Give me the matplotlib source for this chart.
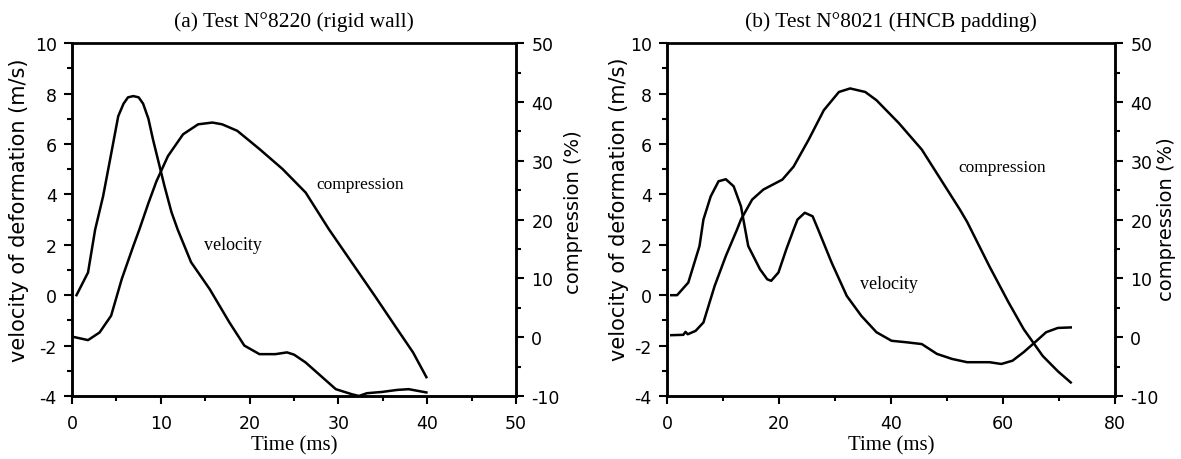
import matplotlib.pyplot as plt
from matplotlib.ticker import MultipleLocator

plt.rcParams['axes.unicode_minus'] = False

# (a) Test 8220 - rigid wall
t_vel_a = [0.5, 1.8, 2.6, 3.5, 4.4, 5.2, 5.8, 6.3, 6.9, 7.5, 8.0, 8.6, 9.1, 10.4, 11.2, 11.9, 13.4, 15.5,
           17.7, 19.4, 21.1, 22.9, 24.2, 25.0, 26.3, 28.0, 29.7, 31.5, 32.3, 33.2, 34.9, 36.6, 37.9, 39.9]
vel_a = [0.0, 0.9, 2.6, 3.93, 5.6, 7.1, 7.6, 7.85, 7.9, 7.85, 7.6, 7.0, 6.2, 4.34, 3.29, 2.6, 1.31, 0.24,
         -1.07, -2.0, -2.34, -2.34, -2.27, -2.36, -2.67, -3.2, -3.73, -3.93, -4.0, -3.89, -3.84, -3.76,
         -3.73, -3.86]
t_comp_a = [0.3, 1.8, 3.1, 4.4, 5.6, 6.9, 7.6, 8.6, 9.5, 10.8, 12.5, 14.2, 15.8, 16.9, 18.6,
            21.1, 23.7, 26.3, 28.9, 31.5, 34.1, 36.6, 38.4, 39.9]
comp_a = [0.0, -0.5, 0.8, 3.65, 9.9, 15.5, 18.4, 22.8, 26.5, 30.8, 34.5, 36.2, 36.5, 36.2, 35.1,
          32.0, 28.6, 24.6, 18.4, 12.7, 7.0, 1.4, -2.6, -6.8]

# (b) Test 8021 - HNCB padding
t_vel_b = [0.75, 1.8, 3.8, 5.8, 6.5, 7.8, 9.2, 10.5, 11.9, 13.2, 14.5, 16.6, 17.9, 18.6, 19.9,
           21.3, 22.6, 23.3, 24.6, 26.0, 27.0, 29.4, 32.1, 34.7, 37.4, 40.1, 42.8, 45.5, 48.2,
           50.9, 53.6, 57.6, 59.7, 61.7, 63.7, 65.7, 67.7, 69.8, 72.1]
vel_b = [0.0, 0.0, 0.5, 1.95, 3.0, 3.92, 4.52, 4.6, 4.32, 3.53, 1.95, 1.03, 0.63, 0.57, 0.9,
         1.82, 2.6, 3.0, 3.27, 3.13, 2.6, 1.29, -0.03, -0.82, -1.47, -1.81, -1.87, -1.94, -2.33,
         -2.53, -2.66, -2.66, -2.73, -2.6, -2.26, -1.87, -1.47, -1.3, -1.28]
t_comp_b = [0.75, 2.9, 3.3, 3.7, 5.1, 6.5, 8.5, 10.5, 12.5, 13.2, 15.2, 17.2, 20.6, 22.6, 25.3,
            28.0, 30.7, 32.7, 35.4, 37.4, 41.4, 45.5, 48.9, 52.3, 53.6, 57.6, 61.0, 63.7, 67.1,
            69.8, 72.1]
comp_b = [0.34, 0.4, 0.9, 0.5, 1.07, 2.5, 8.7, 13.8, 18.3, 20.0, 23.4, 25.1, 26.8, 29.0, 33.6,
          38.6, 41.7, 42.3, 41.7, 40.3, 36.4, 31.9, 26.8, 21.7, 19.6, 12.0, 5.9, 1.36, -3.2,
          -5.8, -7.7]

serif = 'Liberation Serif'
sans = 'DejaVu Sans'

fig = plt.figure(figsize=(11.81, 4.6), dpi=100)


def panel(rect, t_v, v, t_c, c, xmax, xmaj, title, lab_c, lab_v, ylpos, y2pos):
    ax = fig.add_axes(rect)
    ax2 = ax.twinx()
    ax.plot(t_v, v, color='black', lw=1.8)
    ax2.plot(t_c, c, color='black', lw=1.8)
    ax.set_xlim(0, xmax)
    ax.set_ylim(-4, 10)
    ax2.set_ylim(-10, 50)
    ax.xaxis.set_major_locator(MultipleLocator(xmaj))
    ax.xaxis.set_minor_locator(MultipleLocator(xmaj / 2))
    ax.yaxis.set_major_locator(MultipleLocator(2))
    ax.yaxis.set_minor_locator(MultipleLocator(1))
    ax2.yaxis.set_major_locator(MultipleLocator(10))
    ax2.yaxis.set_minor_locator(MultipleLocator(5))
    for a in (ax, ax2):
        a.tick_params(which='major', direction='out', length=6, width=1.5, labelsize=12.5, pad=5)
        a.tick_params(which='minor', direction='out', length=3.5, width=1.5)
        for lbl in a.get_xticklabels() + a.get_yticklabels():
            lbl.set_family(sans)
        for s in a.spines.values():
            s.set_linewidth(1.8)
    ax.tick_params(axis='x', which='major', pad=7)
    ax.spines['top'].set_color('#555555')
    ax.set_title(title, family=serif, fontsize=15.5, pad=12)
    ax.set_xlabel('Time (ms)', family=serif, fontsize=15, labelpad=2)
    ax.set_ylabel('velocity of deformation (m/s)', family=sans, fontsize=15)
    ax2.set_ylabel('compression (%)', family=sans, fontsize=14)
    ax.yaxis.set_label_coords(*ylpos)
    ax2.yaxis.set_label_coords(*y2pos)
    ax.text(lab_c[0], lab_c[1], 'compression', family=serif, fontsize=12.5, ha='center', va='center')
    ax.text(lab_v[0], lab_v[1], 'velocity', family=serif, fontsize=13, ha='center', va='center')


panel([0.061, 0.137, 0.376, 0.767], t_vel_a, vel_a, t_comp_a, comp_a, 50, 10,
      '(a) Test N°8220 (rigid wall)', (32.4, 4.4), (18.1, 2.0), (-0.097, 0.53), (1.108, 0.524))
panel([0.5648, 0.137, 0.3793, 0.767], t_vel_b, vel_b, t_comp_b, comp_b, 80, 20,
      '(b) Test N°8021 (HNCB padding)', (59.9, 5.1), (39.7, 0.45), (-0.085, 0.533), (1.094, 0.504))

fig.savefig('out.png', dpi=100)
